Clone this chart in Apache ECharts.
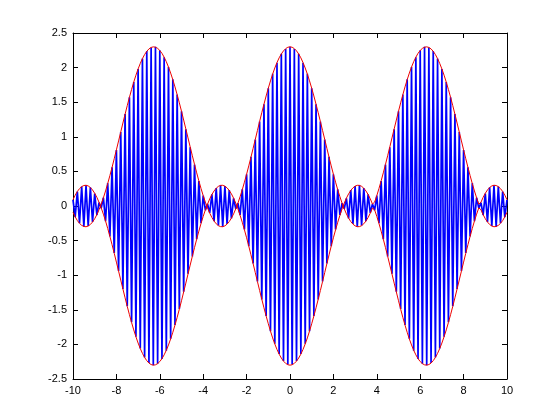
<!DOCTYPE html>
<html>
<head>
<meta charset="utf-8">
<script src="https://cdn.jsdelivr.net/npm/echarts@6/dist/echarts.min.js"></script>
<style>
html,body{margin:0;padding:0;background:#fff;}
#chart{width:560px;height:420px;}
</style>
</head>
<body>
<div id="chart"></div>
<script>
// Sample grid: x from -10 to 10 in steps of 0.1 (201 samples)
const xStart = -10;
const xStep = 0.1;

// Envelope magnitude read at each sample
const envAbs = [
0.091,0.156,0.210,0.251,0.280,0.296,0.300,0.290,0.267,0.232,
0.184,0.125,0.054,0.027,0.118,0.217,0.325,0.439,0.559,0.683,
0.811,0.940,1.070,1.199,1.327,1.451,1.570,1.684,1.791,1.890,
1.980,2.060,2.130,2.189,2.235,2.270,2.291,2.300,2.295,2.278,
2.248,2.206,2.151,2.085,2.008,1.921,1.825,1.721,1.609,1.491,
1.369,1.242,1.114,0.984,0.854,0.726,0.601,0.479,0.363,0.253,
0.150,0.056,0.028,0.103,0.166,0.217,0.257,0.284,0.298,0.299,
0.287,0.262,0.225,0.175,0.114,0.041,0.041,0.134,0.235,0.344,
0.459,0.580,0.705,0.833,0.962,1.092,1.221,1.348,1.471,1.590,
1.702,1.808,1.906,1.994,2.073,2.141,2.197,2.242,2.274,2.294,
2.300,
2.294,2.274,2.242,2.197,2.141,2.073,1.994,1.906,1.808,1.702,
1.590,1.471,1.348,1.221,1.092,0.962,0.833,0.705,0.580,0.459,
0.344,0.235,0.134,0.041,0.041,0.114,0.175,0.225,0.262,0.287,
0.299,0.298,0.284,0.257,0.217,0.166,0.103,0.028,0.056,0.150,
0.253,0.363,0.479,0.601,0.726,0.854,0.984,1.114,1.242,1.369,
1.491,1.609,1.721,1.825,1.921,2.008,2.085,2.151,2.206,2.248,
2.278,2.295,2.300,2.291,2.270,2.235,2.189,2.130,2.060,1.980,
1.890,1.791,1.684,1.570,1.451,1.327,1.199,1.070,0.940,0.811,
0.683,0.559,0.439,0.325,0.217,0.118,0.027,0.054,0.125,0.184,
0.232,0.267,0.290,0.300,0.296,0.280,0.251,0.210,0.156,0.091
];

// Points where the envelope touches zero
const envZeroX = [-8.731,-3.835,-2.448,2.448,3.835,8.731];

// Oscillating (blue) signal values at each sample
const signal = [
0.09,-0.16,0.21,-0.25,0.28,-0.30,0.30,-0.29,0.27,-0.23,
0.18,-0.13,0.05,-0.03,0.12,-0.22,0.33,-0.44,0.56,-0.68,
0.81,-0.94,1.07,-1.20,1.33,-1.45,1.57,-1.68,1.79,-1.89,
1.98,-2.06,2.13,-2.19,2.24,-2.27,2.29,-2.30,2.30,-2.28,
2.25,-2.21,2.15,-2.09,2.01,-1.92,1.83,-1.72,1.61,-1.49,
1.37,-1.24,1.11,-0.98,0.85,-0.73,0.60,-0.48,0.36,-0.25,
0.15,-0.06,0.03,-0.10,0.17,-0.22,0.26,-0.28,0.30,-0.30,
0.29,-0.26,0.23,-0.18,0.11,-0.04,0.04,-0.13,0.24,-0.34,
0.46,-0.58,0.71,-0.83,0.96,-1.09,1.22,-1.35,1.47,-1.59,
1.70,-1.81,1.91,-1.99,2.07,-2.14,2.20,-2.24,2.27,-2.29,
2.30,
-2.29,2.27,-2.24,2.20,-2.14,2.07,-1.99,1.91,-1.81,1.70,
-1.59,1.47,-1.35,1.22,-1.09,0.96,-0.83,0.71,-0.58,0.46,
-0.34,0.24,-0.13,0.04,-0.04,0.11,-0.18,0.23,-0.26,0.29,
-0.30,0.30,-0.28,0.26,-0.22,0.17,-0.10,0.03,-0.06,0.15,
-0.25,0.36,-0.48,0.60,-0.73,0.85,-0.98,1.11,-1.24,1.37,
-1.49,1.61,-1.72,1.83,-1.92,2.01,-2.09,2.15,-2.21,2.25,
-2.28,2.30,-2.30,2.29,-2.27,2.24,-2.19,2.13,-2.06,1.98,
-1.89,1.79,-1.68,1.57,-1.45,1.33,-1.20,1.07,-0.94,0.81,
-0.68,0.56,-0.44,0.33,-0.22,0.12,-0.03,0.05,-0.13,0.18,
-0.23,0.27,-0.29,0.30,-0.30,0.28,-0.25,0.21,-0.16,0.09
];

const xTicks = {min: -10, max: 10, interval: 2};
const yTicks = {min: -2.5, max: 2.5, interval: 0.5};

// Build series data
const xAt = i => Math.round((xStart + i * xStep) * 1000) / 1000;
const signalData = signal.map((v, i) => [xAt(i), v]);
let envPts = envAbs.map((v, i) => [xAt(i), v]).concat(envZeroX.map(x => [x, 0]));
envPts.sort((a, b) => a[0] - b[0]);
const upperData = envPts;
const lowerData = envPts.map(p => [p[0], -p[1]]);

const axisCommon = {
  type: 'value',
  axisLine: {show: true, onZero: false, lineStyle: {color: '#000', width: 1}},
  axisTick: {show: true, inside: true, length: 5, lineStyle: {color: '#000'}},
  splitLine: {show: false}
};
const labelStyle = {color: '#000', fontSize: 11, fontFamily: 'Liberation Sans, Arial, sans-serif'};

const chart = echarts.init(document.getElementById('chart'), null, {renderer: 'canvas'});
chart.setOption({
  animation: false,
  backgroundColor: '#fff',
  grid: {left: 73, right: 53, top: 33, bottom: 41},
  xAxis: [
    Object.assign({}, axisCommon, {position: 'bottom', min: xTicks.min, max: xTicks.max, interval: xTicks.interval,
      axisLabel: Object.assign({margin: 6}, labelStyle)}),
    Object.assign({}, axisCommon, {position: 'top', min: xTicks.min, max: xTicks.max, interval: xTicks.interval,
      axisLabel: {show: false}})
  ],
  yAxis: [
    Object.assign({}, axisCommon, {position: 'left', min: yTicks.min, max: yTicks.max, interval: yTicks.interval,
      axisLabel: Object.assign({margin: 6}, labelStyle)}),
    Object.assign({}, axisCommon, {position: 'right', min: yTicks.min, max: yTicks.max, interval: yTicks.interval,
      axisLabel: {show: false}})
  ],
  series: [
    {type: 'line', data: signalData, showSymbol: false, symbol: 'none', lineStyle: {color: '#0000ff', width: 1.7}, z: 2},
    {type: 'line', data: upperData, showSymbol: false, symbol: 'none', lineStyle: {color: '#ee0000', width: 1}, z: 3},
    {type: 'line', data: lowerData, showSymbol: false, symbol: 'none', lineStyle: {color: '#ee0000', width: 1}, z: 3}
  ]
});
</script>
</body>
</html>
